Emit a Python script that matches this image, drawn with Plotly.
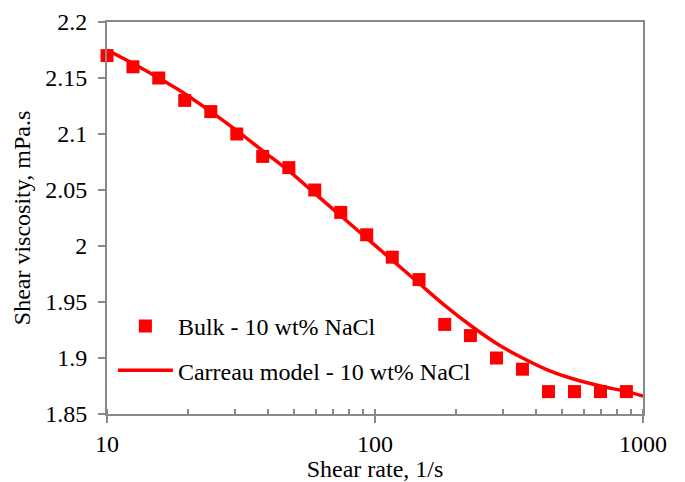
import plotly.graph_objects as go

# Measured bulk viscosity, 10 wt% NaCl
shear_rate = [10, 12.5, 15.6, 19.5, 24.4, 30.5, 38.1, 47.7, 59.6, 74.5, 93.1,
              116, 146, 182, 227, 284, 355, 444, 555, 694, 867]
viscosity = [2.17, 2.16, 2.15, 2.13, 2.12, 2.10, 2.08, 2.07, 2.05, 2.03, 2.01,
             1.99, 1.97, 1.93, 1.92, 1.90, 1.89, 1.87, 1.87, 1.87, 1.87]

# Carreau model fit, tabulated
model_rate = [10, 12.5, 15.6, 19.5, 24.4, 30.5, 38.1, 47.7, 59.6, 74.5, 93.1,
              116.4, 145.5, 181.9, 227.4, 284.2, 355.3, 444.1, 555.1, 693.9, 867.4, 1000]
model_visc = [2.175, 2.163, 2.150, 2.136, 2.120, 2.103, 2.085, 2.067, 2.047, 2.027, 2.007,
              1.987, 1.967, 1.947, 1.929, 1.913, 1.900, 1.889, 1.881, 1.875, 1.870, 1.866]

RED = "#FF0000"
GREY = "#898989"
FONT = "Liberation Serif"

fig = go.Figure()
fig.add_trace(go.Scatter(
    x=shear_rate, y=viscosity, mode="markers",
    name="Bulk - 10 wt% NaCl", legendgroup="a", cliponaxis=False,
    marker=dict(symbol="square", size=13, color=RED),
))
fig.add_trace(go.Scatter(
    x=model_rate, y=model_visc, mode="lines",
    name="Carreau model - 10 wt% NaCl", legendgroup="b",
    line=dict(color=RED, width=3.5, shape="spline", smoothing=1.0),
))

fig.update_layout(
    width=685, height=482,
    margin=dict(l=107, r=42, t=22, b=68),
    paper_bgcolor="white", plot_bgcolor="white",
    font=dict(family=FONT, size=24, color="black"),
    legend=dict(
        x=0.011, y=0.281, xanchor="left", yanchor="top",
        bgcolor="rgba(0,0,0,0)", font=dict(family=FONT, size=24),
        itemwidth=55, tracegroupgap=10, traceorder="grouped",
    ),
    xaxis=dict(
        type="log", range=[1, 3], dtick=1, tick0=0, automargin=False,
        showgrid=False, zeroline=False,
        showline=True, linecolor=GREY, linewidth=2, mirror=True,
        ticks="outside", ticklen=7, tickwidth=2, tickcolor=GREY,
        tickfont=dict(family=FONT, size=24),
        minor=dict(dtick="D1", ticks="inside", ticklen=5, tickwidth=1.5,
                   tickcolor=GREY, showgrid=False),
        title=dict(text="Shear rate, 1/s", font=dict(family=FONT, size=24), standoff=0),
    ),
    yaxis=dict(
        range=[1.85, 2.2], dtick=0.05, tick0=1.85, automargin=False,
        showgrid=False, zeroline=False,
        showline=True, linecolor=GREY, linewidth=2, mirror=True,
        ticks="outside", ticklen=7, tickwidth=2, tickcolor=GREY,
        tickfont=dict(family=FONT, size=24), ticklabelstandoff=6,
        title=dict(text="Shear viscosity, mPa.s", font=dict(family=FONT, size=24), standoff=8),
    ),
)

fig.write_html("out.html")
